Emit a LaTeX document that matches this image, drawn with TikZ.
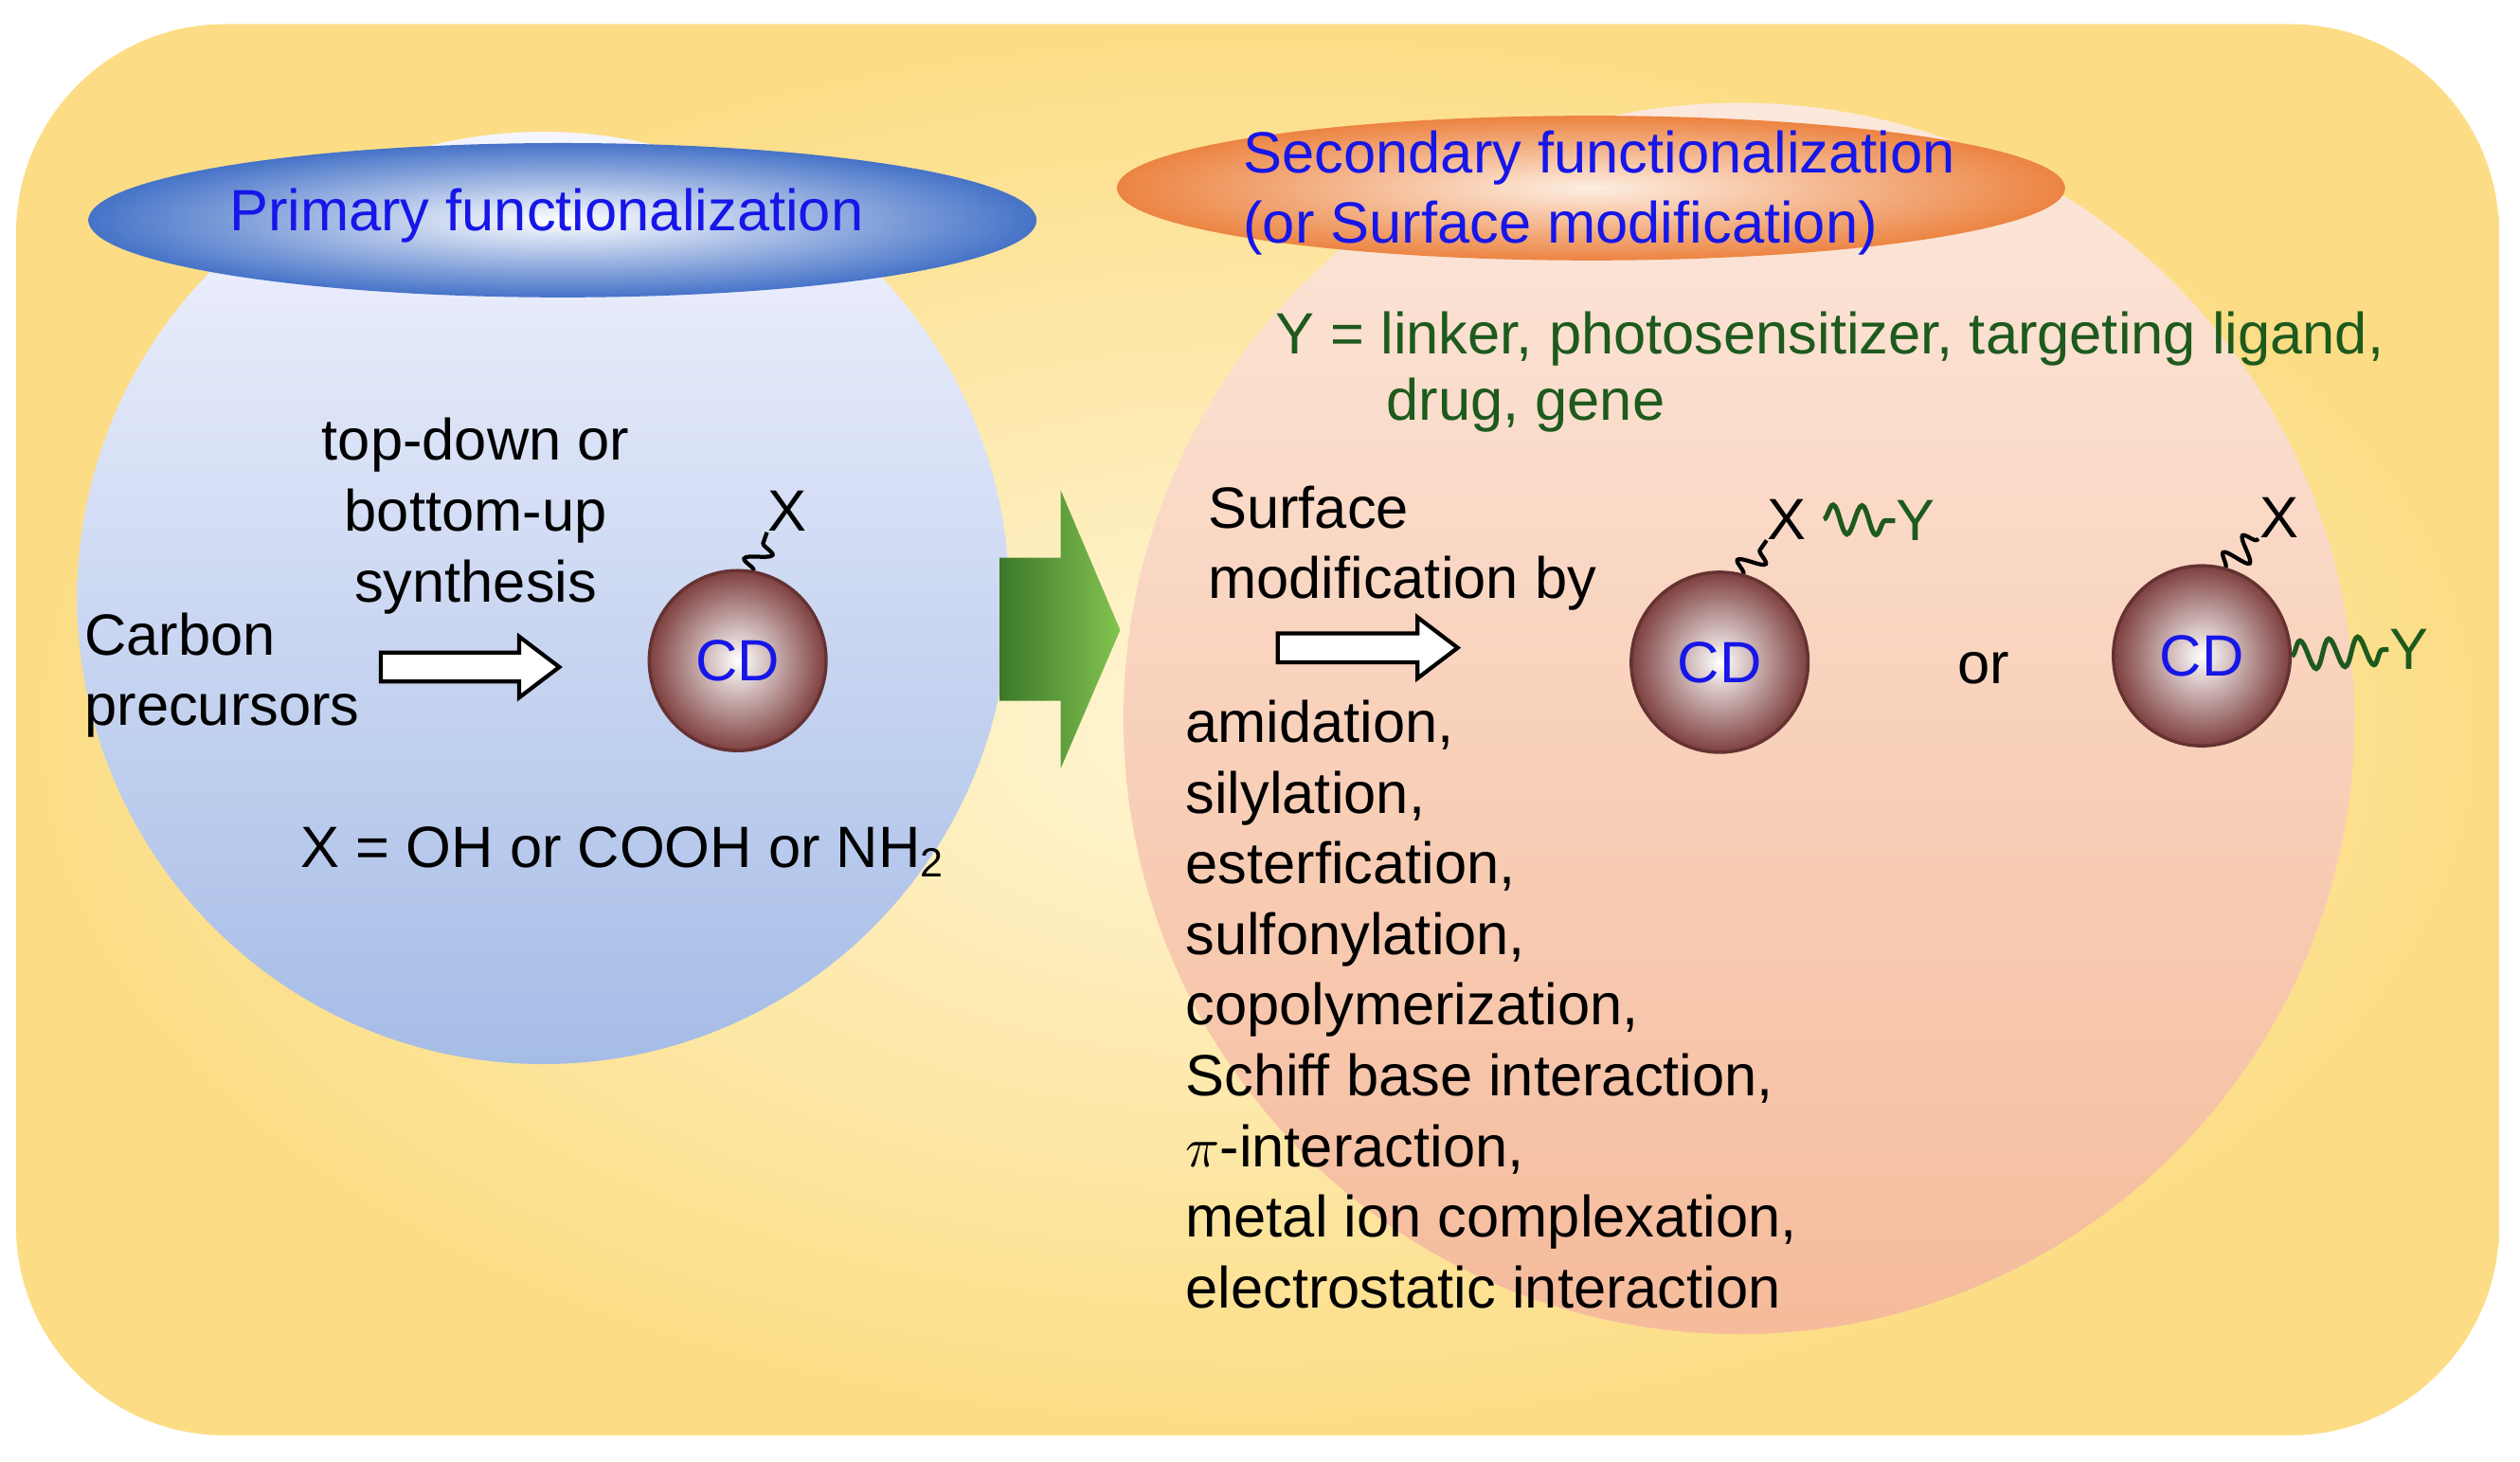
\documentclass[tikz,border=0pt]{standalone}
\usepackage{fontspec}
\setmainfont{Liberation Sans}
\usetikzlibrary{shapes.geometric,decorations.pathmorphing,positioning}
\definecolor{bgyellow}{HTML}{FCDD85}
\definecolor{bglight}{HTML}{FFF6D6}
\definecolor{cdblue}{HTML}{1616E8}
\definecolor{ygreen}{HTML}{1D5A1D}
\definecolor{cdbrown}{HTML}{7E3F3F}
\tikzset{%
    base/.style = {
        font=\fontsize{10.3}{12.5}\selectfont,
        inner sep=0pt,
    },
    label/.style = {
        base,
        align=left,
        anchor=west,
    },
    title/.style = {
        base,
        text=cdblue,
        align=left,
    },
    cd/.style = {
        base,
        ellipse,
        minimum width=1.1cm,
        minimum height=1.12cm,
        inner color=white,
        outer color=cdbrown,
        draw=cdbrown!80!black,
        line width=0.2mm,
        text=cdblue,
    },
    group/.style = {
        base,
    },
    bond/.style = {
        line width=0.25mm,
        decorate,
        decoration={snake, amplitude=0.8mm, segment length=1.6mm},
    },
    linker/.style = {
        bond,
        draw=ygreen,
        line width=0.3mm,
        decoration={snake, amplitude=0.9mm, segment length=1.8mm},
    },
    hollow/.style = {
        draw=black,
        line width=0.25mm,
        fill=white,
    },
}
\begin{document}
\begin{tikzpicture}[x=0.01cm,y=-0.01cm]
    \useasboundingbox (0,0) rectangle (1568,909);
    % background panel
    \shade [inner color=bglight, outer color=bgyellow, rounded corners=1.3cm]
        (10,15) rectangle (1555,893);
    % the two stages
    \shade [top color=blue!4, bottom color={rgb,255:red,165;green,188;blue,230}]
        (338,372) circle [radius=290];
    \shade [top color={rgb,255:red,252;green,232;blue,220}, bottom color={rgb,255:red,245;green,187;blue,155}]
        (1082,447) circle [radius=383];
    \shade [inner color=white, outer color={rgb,255:red,70;green,115;blue,200}]
        (350,137) ellipse [x radius=295, y radius=48];
    \shade [inner color={rgb,255:red,253;green,238;blue,225}, outer color={rgb,255:red,236;green,132;blue,66}]
        (990,117) ellipse [x radius=295, y radius=45];
    % green block arrow
    \shade [left color={rgb,255:red,60;green,120;blue,40}, right color={rgb,255:red,130;green,195;blue,80}]
        (622,347) -- (660,347) -- (660,305) -- (697,392) -- (660,478)
        -- (660,436) -- (622,436) -- cycle;
    % hollow arrows
    \draw [hollow] (237,406) -- (323,406) -- (323,396) -- (348,415)
        -- (323,434) -- (323,424) -- (237,424) -- cycle;
    \draw [hollow] (795,394) -- (882,394) -- (882,384) -- (907,403)
        -- (882,422) -- (882,412) -- (795,412) -- cycle;

    % titles
    \node [title] (primary) at (340,134) {Primary functionalization};
    \node [title, anchor=west] (secondary) at (773,120)
        {Secondary functionalization\\(or Surface modification)};
    \node [label, text=ygreen] (ydef) at (793,211) {Y = linker, photosensitizer, targeting ligand,};
    \node [label, text=ygreen] (ydef2) at (862,252) {drug, gene};

    % primary stage
    \node [base, align=center] (synth) at (296,321) {top-down or\\bottom-up\\synthesis};
    \node [label] (precursor) at (52,420) {Carbon\\precursors};
    \node [cd] (cdA) at (459,411) {CD};
    \node [group] (xA) at (490,318) {X};
    \draw [bond] (cdA.80) -- (xA.south west);
    \node [base] (xdef) at (388,530) {X = OH or COOH or NH\textsubscript{2}};

    % secondary stage
    \node [label] (surface) at (751,341) {Surface\\modification by};
    \node [label, align=left, anchor=north west] (methods) at (737,435)
        {amidation,\\silylation,\\esterfication,\\sulfonylation,\\copolymerization,\\Schiff base interaction,\\$\pi$-interaction,\\metal ion complexation,\\electrostatic interaction};
    \node [cd] (cdB) at (1070,412) {CD};
    \node [group] (xB) at (1112,323) {X};
    \draw [bond] (cdB.75) -- (xB.south west);
    \node [group, text=ygreen] (yB) at (1192,324) {Y};
    \draw [linker] (xB.east) ++(10,0) coordinate (lB) (lB) -- (yB.west);
    \node [base] (or) at (1234,416) {or};
    \node [cd] (cdC) at (1370,408) {CD};
    \node [group] (xC) at (1418,322) {X};
    \draw [bond] (cdC.75) -- (xC.south west);
    \node [group, text=ygreen] (yC) at (1499,404) {Y};
    \draw [linker] (cdC.east) -- (yC.west);
\end{tikzpicture}
\end{document}
